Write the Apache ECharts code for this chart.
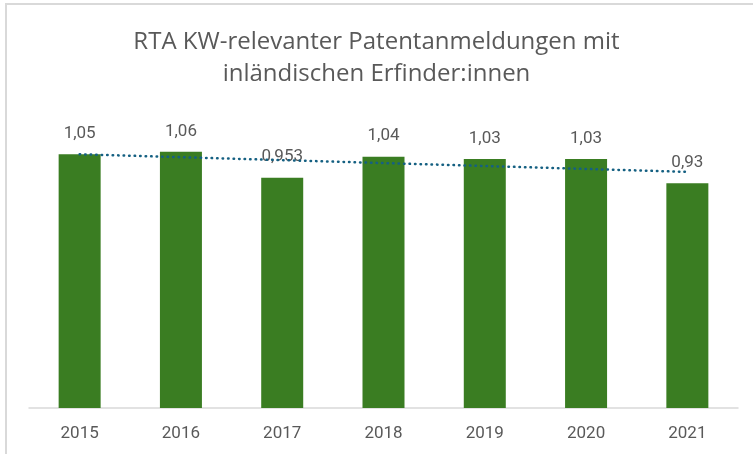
<!DOCTYPE html>
<html>
<head>
<meta charset="utf-8">
<script src="https://cdn.jsdelivr.net/npm/echarts@6/dist/echarts.min.js"></script>
<style>
  html, body { margin: 0; padding: 0; background: #fff; }
  #frame {
    position: absolute; left: 5px; top: 3px; width: 760px; height: 460px;
    border-left: 2px solid #d9d9d9; border-top: 2px solid #d9d9d9;
  }
  #chart { position: absolute; left: 0; top: 0; width: 753px; height: 454px; }
</style>
</head>
<body>
<div id="frame"></div>
<div id="chart"></div>
<script>
// Jahre und RTA-Werte
const years = ['2015', '2016', '2017', '2018', '2019', '2020', '2021']
const rtaValues = [1.05, 1.06, 0.953, 1.04, 1.03, 1.03, 0.93]
// Trendlinie: Anfangs- und Endpunkt
const trendValues = [1.05, null, null, null, null, null, 0.977]

const chart = echarts.init(document.getElementById('chart'))

const fmt = v => String(v).replace('.', ',')

const option = {
  animation: false,
  title: {
    text: 'RTA KW-relevanter Patentanmeldungen mit\ninländischen Erfinder:innen',
    left: 'center',
    top: 21,
    textStyle: {
      fontFamily: 'Open Sans',
      fontSize: 24,
      fontWeight: 'normal',
      color: '#595959',
      lineHeight: 32
    }
  },
  grid: {
    left: 29,
    right: 15,
    top: 118,
    bottom: 46
  },
  xAxis: {
    type: 'category',
    data: years,
    axisLine: { lineStyle: { color: '#d9d9d9', width: 1.5 } },
    axisTick: { show: false },
    axisLabel: {
      color: '#595959',
      fontFamily: 'Roboto',
      fontSize: 17,
      margin: 17
    }
  },
  yAxis: {
    type: 'value',
    min: 0,
    max: 1.2,
    show: false,
    splitLine: { show: false }
  },
  series: [
    {
      type: 'bar',
      data: rtaValues,
      barWidth: 42,
      itemStyle: { color: '#3a7d22' },
      label: {
        show: true,
        position: 'top',
        distance: 12,
        color: '#595959',
        fontFamily: 'Roboto',
        fontSize: 17,
        formatter: p => fmt(p.value)
      }
    },
    {
      type: 'line',
      data: trendValues,
      connectNulls: true,
      symbol: 'none',
      z: 5,
      lineStyle: { color: '#156082', width: 2.5, type: [0.5, 5], cap: 'round' }
    }
  ]
}

chart.setOption(option)
</script>
</body>
</html>
